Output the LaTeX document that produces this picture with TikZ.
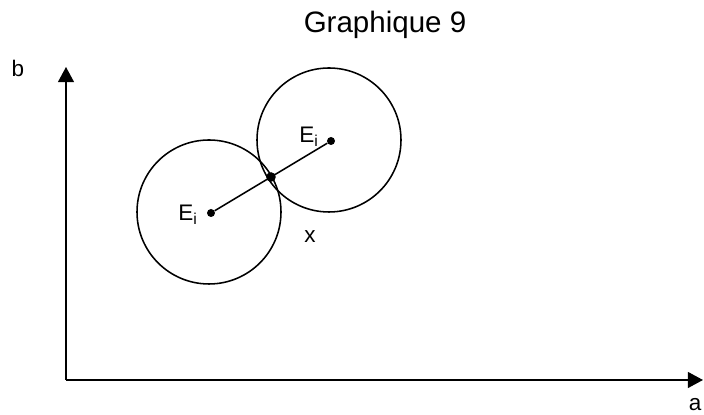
\documentclass[tikz,border=0pt]{standalone}
\usepackage{fontspec}
\setmainfont{Liberation Sans}
\usetikzlibrary{arrows.meta, calc}

\begin{document}
\begin{tikzpicture}[
  >={Triangle[length=3.8mm, width=4mm]},
  axis/.style={line width=1.1pt, ->},
  lbl/.style={font=\fontsize{16}{19}\selectfont, inner sep=0pt},
  zone/.style={circle, draw, line width=1.1pt, minimum size=3.6cm, inner sep=0pt},
  pt/.style={circle, fill, minimum size=2mm, inner sep=0pt},
]

% Canvas
\useasboundingbox (0,0) rectangle (17.6,10.375);

% Title
\node[font=\fontsize{21}{25}\selectfont] (title) at (9.625,9.75) {Graphique 9};

% === Axes ===
\coordinate (O) at (1.65,0.875);
\coordinate (ytip) at (1.65,8.7);
\coordinate (xtip) at (17.575,0.875);
\draw[axis] (O) -- (ytip);
\draw[axis] (O) -- (xtip);
\node[lbl] (blbl) at (0.45,8.675) {b};
\node[lbl] (albl) at (17.375,0.25) {a};

% === Zones ===
\node[zone] (zi) at (5.225,5.075) {};
\node[zone] (zj) at (8.225,6.875) {};

% Centres and link
\node[pt] (ci) at (5.275,5.05) {};
\node[pt] (cj) at (8.275,6.85) {};
\draw[line width=1.1pt] (ci) -- (cj);
\node[pt, minimum size=2.4mm] (cx) at ($(ci)!0.5!(cj)$) {};

% Labels
\node[lbl] (ei) at (4.7,5.0) {E\textsubscript{i}};
\node[lbl] (ej) at (7.725,6.95) {E\textsubscript{i}};
\node[lbl] (xlbl) at (7.75,4.45) {x};

\end{tikzpicture}
\end{document}
